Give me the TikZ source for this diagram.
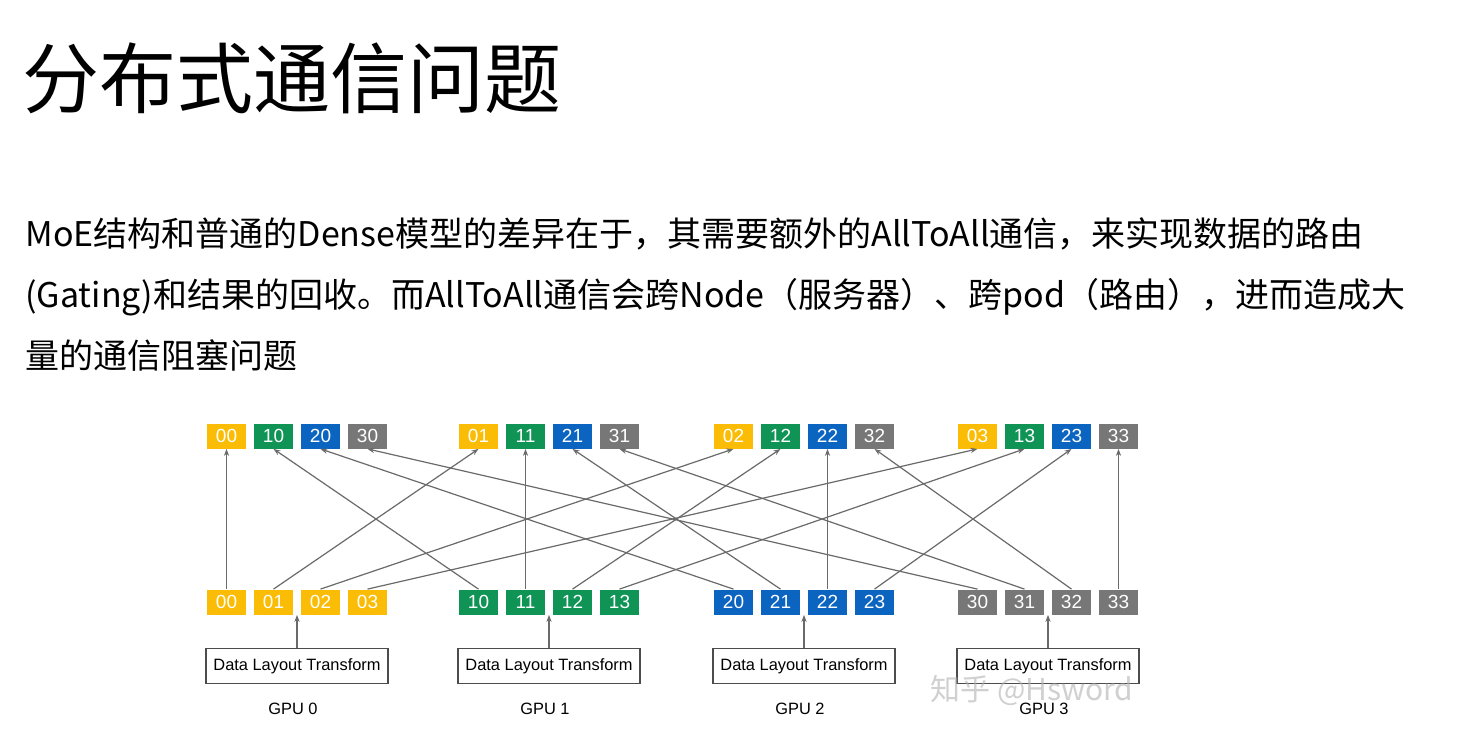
\documentclass[tikz,border=0pt]{standalone}
\usepackage{xcolor}
\usepackage{fontspec}
\setmainfont{Liberation Sans}
\newfontfamily\cjk{Noto Sans CJK SC}
\usetikzlibrary{chains, positioning, arrows.meta}

\definecolor{c0}{HTML}{FBBC05}
\definecolor{c1}{HTML}{0F9455}
\definecolor{c2}{HTML}{0B64C0}
\definecolor{c3}{HTML}{777777}
\definecolor{linkgray}{HTML}{6A6A6A}

\begin{document}
\begin{tikzpicture}[
  x = 0.5pt, y = -0.5pt,
  >= {Stealth[length=3.5pt, width=2.6pt]},
  cell/.style = {
      minimum width=19.5pt, minimum height=12.5pt, inner sep=0pt,
      text=white, font=\fontsize{9.5}{9.5}\selectfont
  },
  dlt/.style = {
      draw=black!70, line width=0.6pt, minimum width=91pt, minimum height=17.5pt,
      inner sep=0pt, font=\fontsize{8.2}{8.2}\selectfont
  },
  gpu/.style = {font=\fontsize{8.2}{8.2}\selectfont},
  link/.style = {->, draw=linkgray, line width=0.6pt}
]
  \useasboundingbox[fill=white] (0,0) rectangle (1466,752);

  % 标题与说明
  \node[anchor=west, inner sep=0pt, font=\cjk\fontsize{38.5}{38.5}\selectfont] (title) at (22, 78) {分布式通信问题};
  \node[anchor=north west, inner sep=0pt, align=left,
        font=\cjk\fontsize{17}{30.5}\selectfont] (desc) at (25, 217)
    {MoE结构和普通的Dense模型的差异在于，其需要额外的AllToAll通信，来实现数据的路由\\
     (Gating)和结果的回收。而AllToAll通信会跨Node（服务器）、跨pod（路由），进而造成大\\
     量的通信阻塞问题};

  % 每个GPU: 上排接收, 下排发送
  \foreach \g/\gx in {0/207, 1/459, 2/714, 3/958} {
    \foreach \k in {0,...,3} {
      \node[cell, fill=c\k] (t\k\g) at (\gx+19.5+\k*47, 436) {\k\g};
      \node[cell, fill=c\g] (b\g\k) at (\gx+19.5+\k*47, 602) {\g\k};
    }
    \node[dlt] (dlt\g) at (\gx+90, 666) {Data Layout Transform};
    \node[gpu] (gpu\g) at (\gx+86, 709) {GPU \g};
    \draw[link] (dlt\g) -- (dlt\g |- b\g0.south);
  }

  % AllToAll 连线
  \foreach \i in {0,...,3}
    \foreach \j in {0,...,3}
      \draw[link] (b\i\j.north) -- (t\i\j.south);

  % 水印
  \node[text=gray!60, opacity=0.6, font=\cjk\fontsize{15}{15}\selectfont] (mark) at (1032, 690) {知乎 @Hsword};
\end{tikzpicture}
\end{document}
